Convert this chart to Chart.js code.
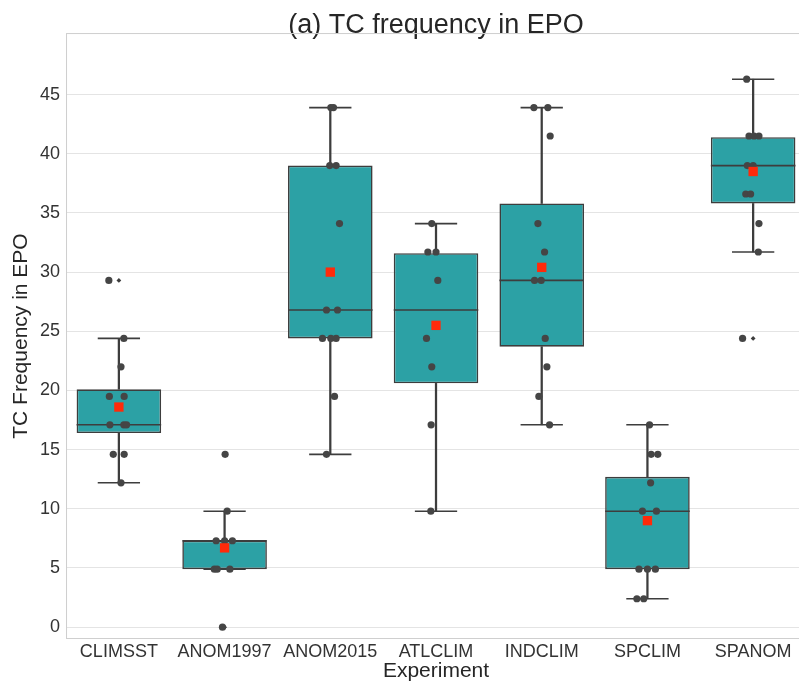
<!DOCTYPE html>
<html>
<head>
<meta charset="utf-8">
<script src="https://cdn.jsdelivr.net/npm/chart.js@4"></script>
<style>
  html, body { margin: 0; padding: 0; background: #ffffff; overflow: hidden; }
  #wrap { position: relative; width: 799px; height: 683px; }
  canvas { display: block; }
</style>
</head>
<body>
<div id="wrap"><canvas id="c" width="799" height="683"></canvas></div>
<script>
// ---- data ----
const categories = ['CLIMSST', 'ANOM1997', 'ANOM2015', 'ATLCLIM', 'INDCLIM', 'SPCLIM', 'SPANOM'];
const whiskerLow  = [12.2, 4.9, 14.6, 9.8, 17.1, 2.4, 31.7];
const quartile1   = [16.4, 4.9, 24.4, 20.6, 23.7, 4.9, 35.8];
const medians     = [17.1, 7.3, 26.8, 26.8, 29.3, 9.8, 39.0];
const quartile3   = [20.1, 7.3, 39.0, 31.6, 35.8, 12.7, 41.4];
const whiskerHigh = [24.4, 9.8, 43.9, 34.1, 43.9, 17.1, 46.3];
const means       = [18.6, 6.7, 30.0, 25.5, 30.4, 9.0, 38.5];
const fliers      = [[29.3], [14.6, 0.0], [], [], [], [], [24.4]];

// ensemble members (strip points) per experiment
const memberValues = [
  [29.3, 24.4, 22.0, 19.5, 19.5, 17.1, 17.1, 17.1, 14.6, 14.6, 12.2],
  [14.6, 9.8, 7.3, 7.3, 7.3, 4.9, 4.9, 4.9, 0.0],
  [43.9, 43.9, 39.0, 39.0, 34.1, 26.8, 26.8, 24.4, 24.4, 24.4, 19.5, 14.6],
  [34.1, 31.7, 31.7, 29.3, 24.4, 22.0, 17.1, 9.8],
  [43.9, 43.9, 41.5, 34.1, 31.7, 29.3, 29.3, 24.4, 22.0, 19.5, 17.1],
  [17.1, 14.6, 14.6, 12.2, 9.8, 9.8, 4.9, 4.9, 4.9, 2.4, 2.4],
  [46.3, 41.5, 41.5, 41.5, 39.0, 39.0, 36.6, 36.6, 34.1, 31.7, 24.4]
];
// horizontal strip jitter of each member (in category widths)
const memberJitter = [
  [-0.095, 0.047, 0.02, -0.09, 0.05, -0.085, 0.047, 0.073, -0.053, 0.05, 0.02],
  [0.005, 0.024, -0.08, 0.0, 0.074, -0.097, -0.07, 0.05, -0.02],
  [0.005, 0.03, -0.005, 0.055, 0.087, -0.036, 0.068, -0.074, 0.005, 0.055, 0.04, -0.036],
  [-0.04, -0.077, 0.0, 0.017, -0.09, -0.04, -0.046, -0.049],
  [-0.074, 0.058, 0.08, -0.036, 0.027, -0.068, -0.005, 0.033, 0.049, -0.027, 0.074],
  [0.02, 0.035, 0.098, 0.03, -0.047, 0.085, -0.08, 0.0, 0.075, -0.1, -0.035],
  [-0.061, -0.039, 0.008, 0.055, -0.055, 0.0, -0.07, -0.024, 0.055, 0.049, -0.1]
];
const yTicks = [0, 5, 10, 15, 20, 25, 30, 35, 40, 45];

// ---- styles ----
const FONT = "'Liberation Sans', Arial, 'DejaVu Sans', sans-serif";
const BOX_FILL = '#2ca1a5';
const EDGE = '#3d3d3d';
const LW = 1.6;
const RIGHT_OVERHANG = 7; // the plot frame runs past the right edge of the picture

const halfWidth = (frac) => (ctx) => {
  const s = ctx.chart.scales.xs;
  return s ? Math.abs(s.getPixelForValue(frac) - s.getPixelForValue(0)) : 0;
};

// idempotent: push the right edge of the plot area past the canvas edge
function extendRight(chart) {
  const target = chart.width + RIGHT_OVERHANG;
  const a = chart.chartArea;
  if (!a) return;
  a.right = target;
  a.width = a.right - a.left;
  Object.values(chart.scales).forEach(s => {
    if (s.isHorizontal()) {
      s.right = target;
      s.width = s.right - s.left;
      s.configure();
    }
  });
  if (chart.titleBlock) {
    chart.titleBlock.right = target;
    chart.titleBlock.width = chart.titleBlock.right - chart.titleBlock.left;
  }
}

const overhangPlugin = {
  id: 'overhang',
  afterLayout(chart) { extendRight(chart); },
  beforeDatasetsUpdate(chart) { extendRight(chart); },
  beforeDraw(chart) { extendRight(chart); }
};

const framePlugin = {
  id: 'frame',
  afterDatasetsDraw(chart) {
    const a = chart.chartArea, c = chart.ctx;
    c.save();
    c.strokeStyle = '#cfcfcf';
    c.lineWidth = 1;
    c.strokeRect(a.left + 0.5, a.top + 0.5, a.right - a.left - 1, a.bottom - a.top - 1);
    c.restore();
  }
};

new Chart(document.getElementById('c'), {
  type: 'bar',
  plugins: [overhangPlugin, framePlugin],
  data: {
    labels: categories,
    datasets: [
      {
        type: 'scatter', label: 'Mean', xAxisID: 'xs',
        data: means.map((v, i) => ({ x: i, y: v })),
        pointStyle: 'rect', radius: 6.6, backgroundColor: '#ff2a0a', borderWidth: 0
      },
      {
        type: 'scatter', label: 'Members', xAxisID: 'xs',
        data: memberValues.flatMap((vals, i) => vals.map((v, j) => ({ x: i + memberJitter[i][j], y: v }))),
        pointStyle: 'circle', radius: 3.6, backgroundColor: '#454545', borderWidth: 0
      },
      {
        type: 'scatter', label: 'Outliers', xAxisID: 'xs',
        data: fliers.flatMap((vals, i) => vals.map(v => ({ x: i, y: v }))),
        pointStyle: 'rectRot', radius: 2.4, backgroundColor: '#3d3d3d', borderWidth: 0
      },
      {
        type: 'scatter', label: 'Median', xAxisID: 'xs',
        data: medians.map((v, i) => ({ x: i, y: v })),
        pointStyle: 'line', radius: halfWidth(0.4), borderColor: EDGE, borderWidth: LW
      },
      {
        type: 'scatter', label: 'Caps', xAxisID: 'xs',
        data: whiskerLow.map((v, i) => ({ x: i, y: v })).concat(whiskerHigh.map((v, i) => ({ x: i, y: v }))),
        pointStyle: 'line', radius: halfWidth(0.2), borderColor: EDGE, borderWidth: LW
      },
      {
        type: 'bar', label: 'IQR',
        data: quartile1.map((q, i) => [q, quartile3[i]]),
        backgroundColor: BOX_FILL, borderColor: EDGE, borderWidth: LW,
        borderSkipped: false, grouped: false, barPercentage: 0.8, categoryPercentage: 1.0
      },
      {
        type: 'bar', label: 'Lower whisker',
        data: whiskerLow.map((v, i) => [v, quartile1[i]]),
        backgroundColor: EDGE, borderWidth: 0, grouped: false, barThickness: LW
      },
      {
        type: 'bar', label: 'Upper whisker',
        data: whiskerHigh.map((v, i) => [quartile3[i], v]),
        backgroundColor: EDGE, borderWidth: 0, grouped: false, barThickness: LW
      }
    ]
  },
  options: {
    responsive: false,
    maintainAspectRatio: false,
    animation: false,
    devicePixelRatio: 1,
    layout: { padding: { left: 4, right: 0, top: 0, bottom: 1 } },
    plugins: {
      legend: { display: false },
      tooltip: { enabled: false },
      title: {
        display: true, fullSize: false,
        text: '(a) TC frequency in EPO',
        color: '#262626',
        font: { family: FONT, size: 27, weight: 'normal', lineHeight: 0.52 },
        padding: { top: 19, bottom: 0 }
      }
    },
    scales: {
      x: {
        type: 'category', offset: true,
        grid: { display: false, drawTicks: false },
        border: { display: false },
        ticks: { color: '#333333', font: { family: FONT, size: 18, lineHeight: 1.0 }, padding: 4, maxRotation: 0 },
        title: {
          display: true, text: 'Experiment', color: '#262626',
          font: { family: FONT, size: 21, lineHeight: 1.0 }, padding: { top: -4, bottom: 0 }
        }
      },
      xs: { type: 'linear', min: -0.5, max: 6.5, offset: false, display: false },
      y: {
        type: 'linear', min: -1, max: 50.2,
        afterBuildTicks: (scale) => { scale.ticks = yTicks.map(v => ({ value: v })); },
        grid: { color: '#e4e4e4', lineWidth: 1, drawTicks: false },
        border: { display: false },
        ticks: { color: '#333333', font: { family: FONT, size: 18 }, padding: 6 },
        title: {
          display: true, text: 'TC Frequency in EPO', color: '#262626',
          font: { family: FONT, size: 21, lineHeight: 1.0 }, padding: { top: 6.5, bottom: 2.5 }
        }
      }
    }
  }
});
</script>
</body>
</html>
